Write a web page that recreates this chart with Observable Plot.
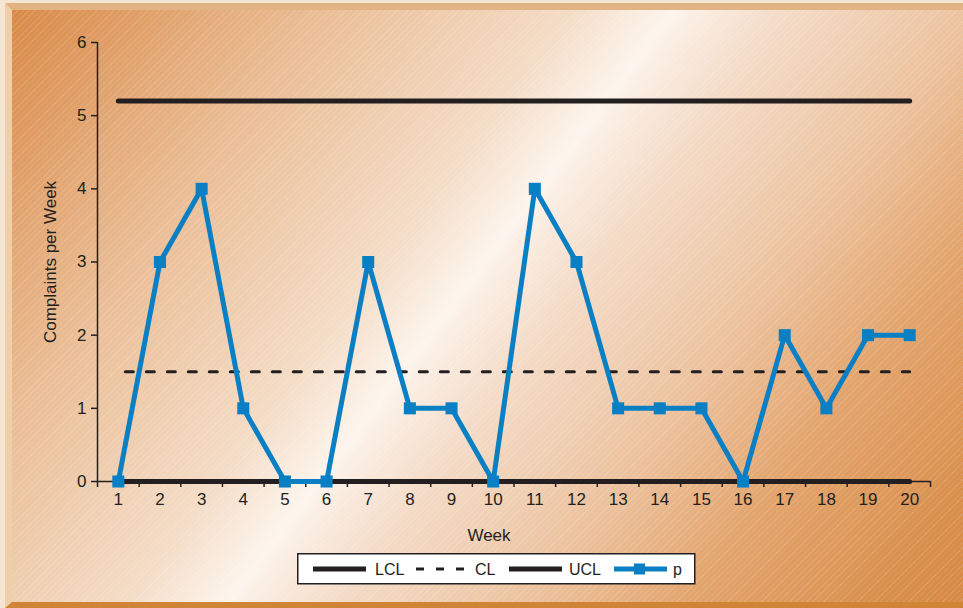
<!DOCTYPE html>
<html>
<head>
<meta charset="utf-8">
<script src="https://cdn.jsdelivr.net/npm/d3@7"></script>
<script src="https://cdn.jsdelivr.net/npm/@observablehq/plot@0.6"></script>
<style>
  html, body { margin: 0; padding: 0; }
  body { width: 963px; height: 608px; overflow: hidden; font-family: "Liberation Sans", Arial, Helvetica, sans-serif; }
  #stage { position: relative; width: 963px; height: 608px; background: #f5e5d3; }
  #bg { position: absolute; left: 5px; top: 3px; width: 951px; height: 592px;
        border-top: 7px solid #e2b383; border-left: 7px solid #efcfa9; border-bottom: 6px solid #cf8436; border-right: 0;
        background:
          repeating-linear-gradient(135deg, rgba(255,255,255,0.12) 0px, rgba(255,255,255,0.12) 1px, rgba(255,255,255,0) 1px, rgba(255,255,255,0) 4px),
          linear-gradient(127deg, #d98946 0%, #eabd95 22%, #f4dcc6 40%, #fdf5ed 47.5%, #fbefe5 48.5%, #f4dcc8 55%, #ecc29e 69%, #e3a56e 80%, #d98f4c 94%, #d68a45 100%); }
  #chart { position: absolute; left: 0; top: 0; }
  #legend { position: absolute; left: 297px; top: 553px; }
  #legend svg { display: block; }
</style>
</head>
<body>
<div id="stage">
  <div id="bg"></div>
  <div id="chart"></div>
  <div id="legend"></div>
</div>
<script>
const weeks = [1,2,3,4,5,6,7,8,9,10,11,12,13,14,15,16,17,18,19,20];
const complaints = [0,3,4,1,0,0,3,1,1,0,4,3,1,1,1,0,2,1,2,2];
const UCL = 5.2;
const CL = 1.5;
const LCL = 0;
const yTicks = [0,1,2,3,4,5,6];
const seriesNames = ["LCL","CL","UCL","p"];

const ink = "#231f20";
const blue = "#0a7fc4";

const pData = weeks.map((w, i) => ({week: w, value: complaints[i]}));
const limit = v => weeks.map(w => ({week: w, value: v}));
const boundaries = weeks.map(w => w - 0.5).concat([weeks[weeks.length - 1] + 0.5]);

const chart = Plot.plot({
  width: 963,
  height: 608,
  marginLeft: 97,
  marginRight: 33,
  marginTop: 42,
  marginBottom: 127,
  x: {domain: [weeks[0] - 0.5, weeks[weeks.length - 1] + 0.5]},
  y: {domain: [yTicks[0], yTicks[yTicks.length - 1]]},
  style: {background: "transparent", fontFamily: "'Liberation Sans', Arial, Helvetica, sans-serif", fontSize: "17px", color: ink, overflow: "visible"},
  marks: [
    Plot.axisY({ticks: yTicks, tickSize: 6, tickPadding: 5, tickFormat: d => String(d), label: null, stroke: ink, strokeWidth: 1.5, fill: ink}),
    Plot.axisX({ticks: boundaries, tickSize: 6, tickFormat: () => "", label: null, stroke: ink, strokeWidth: 1.5}),
    Plot.axisX({ticks: weeks, tickSize: 0, tickPadding: 11, tickFormat: d => String(d), label: null, fill: ink}),
    Plot.ruleX([boundaries[0]], {stroke: ink, strokeWidth: 1.5}),
    Plot.ruleY([yTicks[0]], {stroke: ink, strokeWidth: 1.5}),
    Plot.text(["Complaints per Week"], {frameAnchor: "left", rotate: -90, dx: -47, textAnchor: "middle", lineAnchor: "middle", text: d => d, fill: ink, fontSize: 17}),
    Plot.text(["Week"], {frameAnchor: "bottom", dy: 54, dx: -25, textAnchor: "middle", lineAnchor: "middle", text: d => d, fill: ink, fontSize: 17}),
    Plot.line(limit(LCL), {x: "week", y: "value", stroke: ink, strokeWidth: 5, strokeLinecap: "round"}),
    Plot.line(limit(UCL), {x: "week", y: "value", stroke: ink, strokeWidth: 5, strokeLinecap: "round"}),
    Plot.line(limit(CL), {x: "week", y: "value", stroke: ink, strokeWidth: 3, strokeDasharray: "8,13", strokeDashoffset: -7}),
    Plot.line(pData, {x: "week", y: "value", stroke: blue, strokeWidth: 5, strokeLinejoin: "miter"}),
    Plot.dot(pData, {x: "week", y: "value", symbol: "square", r: 6.8, fill: blue, stroke: "none"})
  ]
});
document.getElementById("chart").appendChild(chart);

// Legend (box 398 x 31)
const swatches = {
  LCL: {stroke: ink, width: 5, dash: null, marker: false, x: 16, tx: 78},
  CL: {stroke: ink, width: 3, dash: "8,12", marker: false, x: 119, tx: 178},
  UCL: {stroke: ink, width: 5, dash: null, marker: false, x: 212, tx: 272},
  p: {stroke: blue, width: 5, dash: null, marker: true, x: 317, tx: 376}
};
const lsvg = d3.select("#legend").append("svg").attr("width", 400).attr("height", 33);
lsvg.append("rect").attr("x", 0.75).attr("y", 0.75).attr("width", 397).attr("height", 30)
  .attr("fill", "#fff").attr("stroke", ink).attr("stroke-width", 1.5);
seriesNames.forEach(name => {
  const s = swatches[name];
  lsvg.append("line").attr("x1", s.x).attr("x2", s.x + 53).attr("y1", 16).attr("y2", 16)
    .attr("stroke", s.stroke).attr("stroke-width", s.width)
    .attr("stroke-dasharray", s.dash);
  if (s.marker) lsvg.append("rect").attr("x", s.x + 20).attr("y", 10.5).attr("width", 11).attr("height", 11).attr("fill", blue);
  lsvg.append("text").attr("x", s.tx).attr("y", 16).attr("dy", "0.35em")
    .attr("font-size", 16).attr("fill", ink)
    .attr("font-family", "'Liberation Sans', Arial, Helvetica, sans-serif").text(name);
});
</script>
</body>
</html>
